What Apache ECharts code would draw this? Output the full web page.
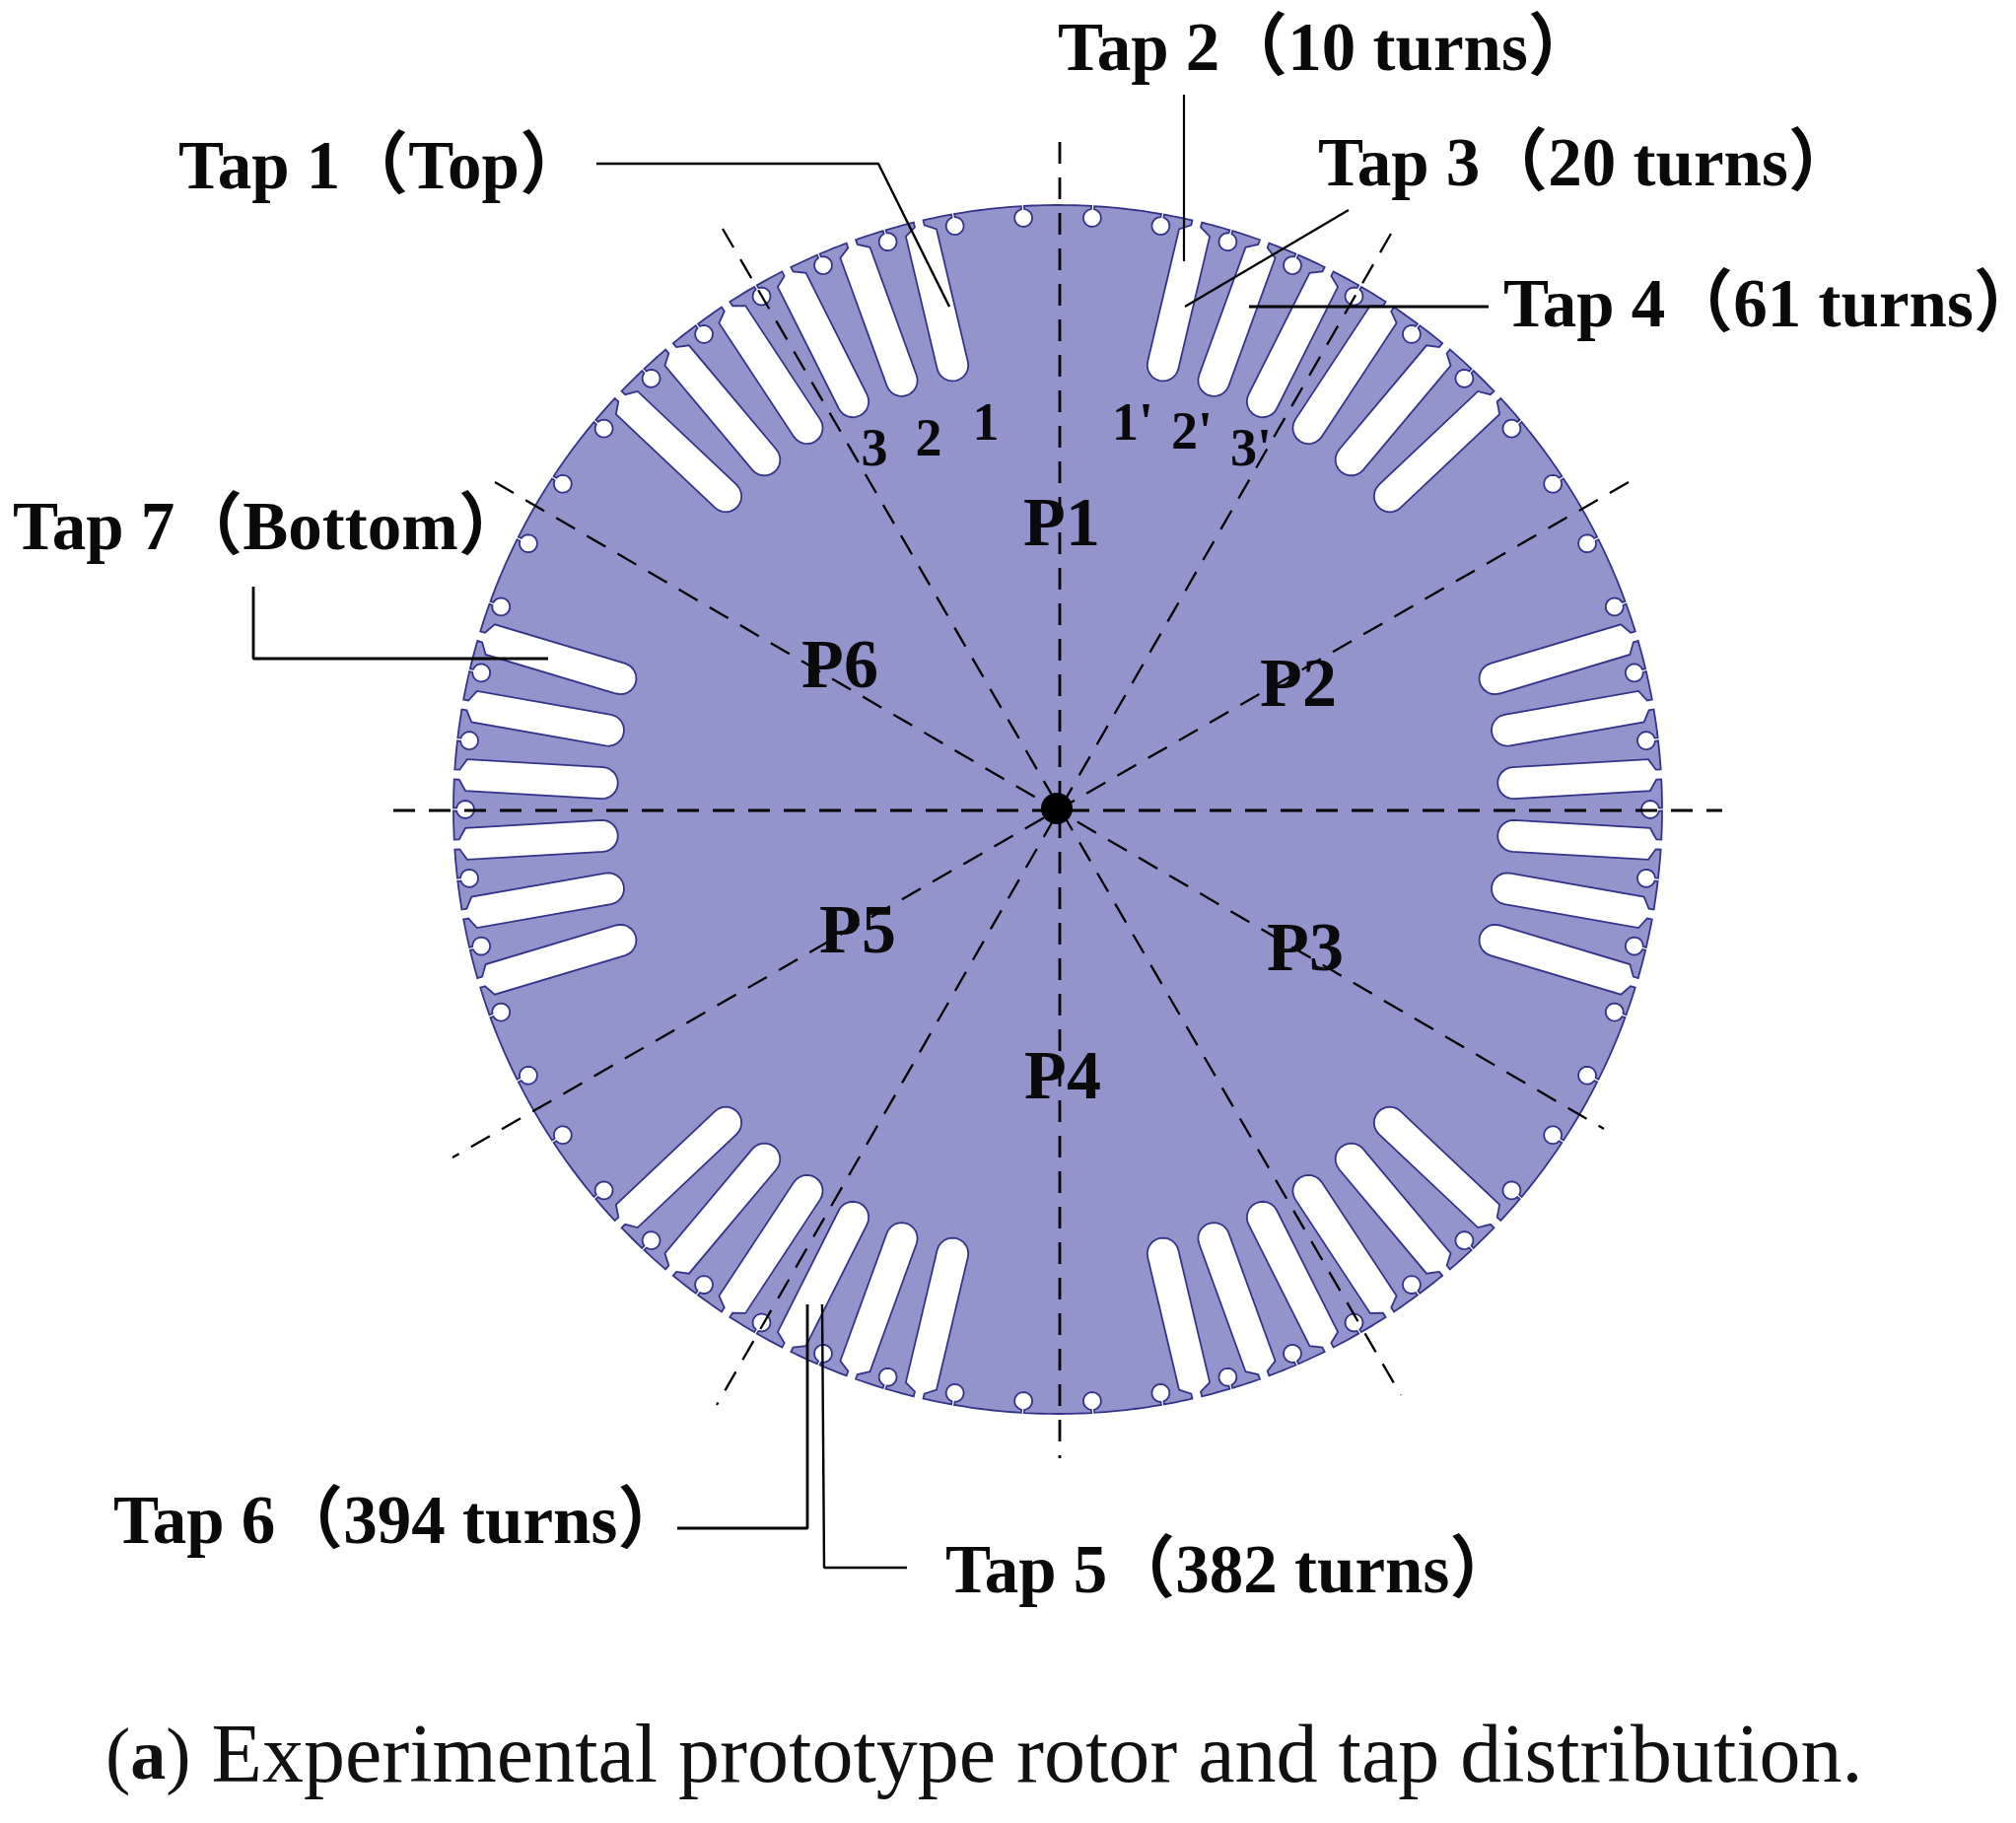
<!DOCTYPE html>
<html>
<head>
<meta charset="utf-8">
<title>Experimental prototype rotor</title>
<style>
html, body { margin: 0; padding: 0; background: #fff; }
#main { width: 2045px; height: 1849px; }
</style>
<script src="https://cdn.jsdelivr.net/npm/echarts@6/dist/echarts.min.js"></script>
</head>
<body>
<div id="main"></div>
<script>
// 圆周上的位置，单位是度，从正上方顺时针
var slotAngles = [
    13.33, 20, 26.67, 33.33, 40, 46.67,
    73.33, 80, 86.67, 93.33, 100, 106.67,
    133.33, 140, 146.67, 153.33, 160, 166.67,
    193.33, 200, 206.67, 213.33, 220, 226.67,
    253.33, 260, 266.67, 273.33, 280, 286.67,
    313.33, 320, 326.67, 333.33, 340, 346.67
];
var holeAngles = [
    3.33, 10, 16.67, 23.33, 30, 36.67, 43.33, 50, 56.67,
    63.33, 70, 76.67, 83.33, 90, 96.67, 103.33, 110, 116.67,
    123.33, 130, 136.67, 143.33, 150, 156.67, 163.33, 170, 176.67,
    183.33, 190, 196.67, 203.33, 210, 216.67, 223.33, 230, 236.67,
    243.33, 250, 256.67, 263.33, 270, 276.67, 283.33, 290, 296.67,
    303.33, 310, 316.67, 323.33, 330, 336.67, 343.33, 350, 356.67
];
var rotorCentre = [1073, 821];

// 虚线 [x1, y1, x2, y2]
var dashLines = [
    [1075, 144, 1075, 1479],
    [399, 822, 1747, 822],
    [733, 232, 1421, 1415],
    [1411, 237, 727, 1425],
    [502, 489, 1627, 1145],
    [1652, 489, 459, 1174]
];

// 引线
var leaderLines = [
    [[605, 166], [891, 166], [963, 311]],
    [[1201, 96], [1201, 265]],
    [[1368, 213], [1202, 311]],
    [[1267, 311], [1510, 311]],
    [[920, 1590], [836, 1590], [834, 1323]],
    [[687, 1550], [819, 1550], [819, 1323]],
    [[257, 595], [257, 668], [556, 668]]
];
var leaderWidths = [2.4, 2.2, 2.2, 3, 2.4, 2.8, 2.8];

var tapLabels = ['Tap 1（Top）', 'Tap 2（10 turns）', 'Tap 3（20 turns）', 'Tap 4（61 turns）', 'Tap 5（382 turns）', 'Tap 6（394 turns）', 'Tap 7（Bottom）'];
var tapX = [181, 1073, 1337, 1525, 959, 115, 13];
var tapY = [194, 74, 191, 334, 1618, 1568, 560];

var slotLabels = ['1', '2', '3', "1'", "2'", "3'"];
var slotLabelX = [1000, 942, 887, 1149, 1209, 1269];
var slotLabelY = [448, 464, 474, 448, 457, 474];

var poleLabels = ['P1', 'P2', 'P3', 'P4', 'P5', 'P6'];
var poleX = [1077, 1317, 1324, 1078, 870, 852];
var poleY = [556, 719, 987, 1117, 969, 700];

var caption = '{p|(}{b|a}{p|)} Experimental prototype rotor and tap distribution.';
var captionPos = [107, 1827];

var rimR = 613;
var SERIF = '"Liberation Serif", "Noto Sans CJK SC", serif';

// 径向 r、切向 t 换成图上的坐标
function toXY(angle, r, t) {
    var a = angle * Math.PI / 180;
    return [
        rotorCentre[0] + r * Math.sin(a) + t * Math.cos(a),
        rotorCentre[1] - r * Math.cos(a) + t * Math.sin(a)
    ];
}

function slotOutline(angle) {
    var pts = [toXY(angle, rimR, -5), toXY(angle, rimR - 5, -5), toXY(angle, rimR - 12, -16)];
    for (var th = -90; th >= -270; th -= 15) {
        var c = th * Math.PI / 180;
        pts.push(toXY(angle, 463 + 16 * Math.cos(c), 16 * Math.sin(c)));
    }
    pts.push(toXY(angle, rimR - 12, 16), toXY(angle, rimR - 5, 5), toXY(angle, rimR, 5));
    return pts;
}

function holeOutline(angle) {
    var pts = [toXY(angle, rimR, -1.5)];
    for (var th = -10; th >= -350; th -= 20) {
        var c = th * Math.PI / 180;
        pts.push(toXY(angle, 601 + 9 * Math.cos(c), 9 * Math.sin(c)));
    }
    pts.push(toXY(angle, rimR, 1.5));
    return pts;
}

// 转子轮廓：沿外圆走一圈，遇到槽和小孔就绕进去
function rotorOutline() {
    var features = [];
    slotAngles.forEach(function (a) { features.push({ angle: a, outline: slotOutline(a) }); });
    holeAngles.forEach(function (a) { features.push({ angle: a, outline: holeOutline(a) }); });
    features.sort(function (p, q) { return p.angle - q.angle; });
    var pts = [];
    features.forEach(function (f, i) {
        pts = pts.concat(f.outline);
        var next = i + 1 < features.length ? features[i + 1].angle : features[0].angle + 360;
        for (var a = f.angle + 1; a < next - 0.8; a += 0.5) {
            pts.push(toXY(a, rimR, 0));
        }
    });
    return pts;
}

var myChart = echarts.init(document.getElementById('main'));

function textSeries(names, xs, ys, font, z) {
    return {
        type: 'custom',
        silent: true,
        z: z,
        data: names.map(function (n, i) { return [xs[i], ys[i], n]; }),
        renderItem: function (params, api) {
            var p = api.coord([api.value(0), api.value(1)]);
            return {
                type: 'text',
                x: p[0],
                y: p[1],
                style: {
                    text: names[params.dataIndex],
                    font: font.text,
                    fill: '#0a0a0a',
                    align: font.align,
                    verticalAlign: 'bottom'
                }
            };
        }
    };
}

var series = [{
    type: 'custom',
    silent: true,
    z: 1,
    data: [rotorCentre],
    renderItem: function (params, api) {
        var points = rotorOutline().map(function (p) { return api.coord(p); });
        return {
            type: 'polygon',
            shape: { points: points },
            style: { fill: '#9494cc', stroke: '#33338a', lineWidth: 1.8 }
        };
    }
}];

dashLines.forEach(function (d, i) {
    series.push({
        type: 'line',
        silent: true,
        z: 2,
        symbol: 'none',
        data: [[d[0], d[1]], [d[2], d[3]]],
        lineStyle: { color: '#000', width: i < 2 ? 2.8 : 2.3, type: [22, 14] }
    });
});

leaderLines.forEach(function (l, i) {
    series.push({
        type: 'line',
        silent: true,
        z: 3,
        symbol: 'none',
        data: l,
        lineStyle: { color: '#000', width: leaderWidths[i] }
    });
});

series.push({
    type: 'scatter',
    silent: true,
    z: 4,
    symbol: 'circle',
    symbolSize: 32,
    itemStyle: { color: '#000', opacity: 1 },
    data: [[1072, 820]]
});

series.push(textSeries(tapLabels, tapX, tapY.map(function (y) { return y + 14; }), { text: 'bold 69px ' + SERIF, align: 'left' }, 5));
series.push(textSeries(slotLabels, slotLabelX, slotLabelY.map(function (y) { return y + 11; }), { text: 'bold 54px ' + SERIF, align: 'center' }, 5));
series.push(textSeries(poleLabels, poleX, poleY.map(function (y) { return y + 14; }), { text: 'bold 70px ' + SERIF, align: 'center' }, 5));

series.push({
    type: 'custom',
    silent: true,
    z: 5,
    data: [captionPos],
    renderItem: function (params, api) {
        var p = api.coord([api.value(0), api.value(1)]);
        return {
            type: 'text',
            x: p[0],
            y: p[1],
            style: {
                text: caption,
                font: '84px ' + SERIF,
                fill: '#111',
                align: 'left',
                verticalAlign: 'bottom',
                rich: {
                    b: { font: 'bold 72px ' + SERIF, fill: '#111' },
                    p: { font: '76px ' + SERIF, fill: '#111' }
                }
            }
        };
    }
});

var option = {
    animation: false,
    backgroundColor: '#fff',
    grid: { left: 0, right: 0, top: 0, bottom: 0 },
    xAxis: { type: 'value', min: 0, max: 2045, show: false },
    yAxis: { type: 'value', min: 0, max: 1849, inverse: true, show: false },
    series: series
};
myChart.setOption(option);
</script>
</body>
</html>
